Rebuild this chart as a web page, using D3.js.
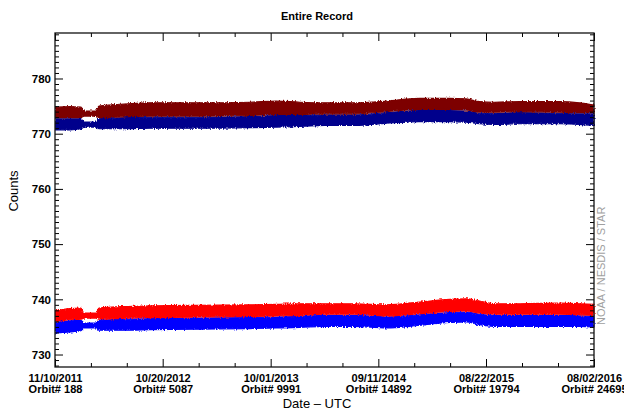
<!DOCTYPE html>
<html><head><meta charset="utf-8">
<script src="https://cdn.jsdelivr.net/npm/d3@7"></script>
<style>
body{margin:0;background:#fff}
svg{display:block}
text{font-family:"Liberation Sans",Arial,Helvetica,sans-serif}
</style>
</head><body>
<svg id="chart" width="624" height="410"></svg>
<script>
// ---- data ----
const sampleDates = ["2011-11-10","2011-12-28","2012-02-01","2012-02-11","2012-03-20","2012-03-30","2012-06-27","2012-09-09","2013-02-16","2013-07-26","2013-10-20","2014-01-02","2014-03-23","2014-06-27","2014-10-07","2015-01-21","2015-04-27","2015-06-20","2015-08-01","2015-09-18","2015-12-07","2016-04-13","2016-06-16","2016-08-02"];
const darkRedHi = [774.8,774.9,774.8,774.1,774.1,775.0,775.4,775.6,775.6,775.7,775.9,775.7,775.6,775.6,775.9,776.4,776.4,776.3,775.8,775.7,775.8,775.8,775.6,775.2];
const darkRedLo = [772.9,772.9,772.9,773.2,773.2,772.9,773.1,773.2,773.2,773.3,773.5,773.5,773.6,773.6,774.0,774.4,774.4,774.3,773.9,773.9,774.0,773.9,773.8,773.8];
const navyHi    = [772.7,772.7,772.7,772.1,772.1,772.7,772.9,773.0,773.0,773.1,773.3,773.3,773.4,773.4,773.8,774.2,774.2,774.1,773.7,773.7,773.8,773.7,773.6,773.6];
const navyLo    = [770.7,770.7,770.9,771.2,771.2,770.9,770.9,771.0,771.0,771.1,771.2,771.3,771.5,771.5,771.9,772.2,772.2,772.1,771.8,771.7,771.8,771.8,771.7,771.5];
const redHi     = [737.9,738.3,738.4,737.5,737.5,738.4,738.7,738.8,738.9,739.0,739.1,739.2,739.2,739.2,739.0,739.5,740.0,740.1,739.7,739.2,739.2,739.3,739.2,739.1];
const redLo     = [736.0,736.3,736.4,736.6,736.6,736.4,736.6,736.7,736.8,736.9,737.0,737.1,737.3,737.3,737.0,737.4,737.8,737.9,737.5,737.3,737.3,737.3,737.2,737.1];
const blueHi    = [735.8,736.1,736.2,735.7,735.7,736.2,736.4,736.5,736.6,736.7,736.8,736.9,737.1,737.1,736.8,737.2,737.6,737.7,737.3,737.1,737.1,737.1,737.0,736.9];
const blueLo    = [733.9,734.1,734.3,734.8,734.8,734.4,734.4,734.5,734.6,734.7,734.8,734.9,735.1,735.1,734.8,735.3,735.8,735.9,735.4,735.1,735.1,735.1,735.1,735.0];

const tickDates  = ["2011-11-10","2012-10-20","2013-10-01","2014-09-11","2015-08-22","2016-08-02"];
const tickLabels = ["11/10/2011","10/20/2012","10/01/2013","09/11/2014","08/22/2015","08/02/2016"];
const tickOrbits = ["Orbit# 188","Orbit# 5087","Orbit# 9991","Orbit# 14892","Orbit# 19794","Orbit# 24695"];
const yTicks = [730,740,750,760,770,780];
const yDomain = [727.74, 788.24];

// ---- layout ----
const L = 55, R = 594, T = 33, B = 367;
const parse = d3.utcParse("%Y-%m-%d");
const svg = d3.select("#chart");

const x = d3.scaleUtc().domain([parse(tickDates[0]), parse(tickDates[tickDates.length-1])]).range([L, R]);
const y = d3.scaleLinear().domain(yDomain).range([B, T]);

const defs = svg.append("defs");
const f = defs.append("filter").attr("id","rough").attr("x","-5%").attr("y","-30%").attr("width","110%").attr("height","160%");
f.append("feTurbulence").attr("type","fractalNoise").attr("baseFrequency","0.9 0.45").attr("numOctaves",2).attr("seed",7).attr("result","n");
f.append("feDisplacementMap").attr("in","SourceGraphic").attr("in2","n").attr("scale",3.5).attr("xChannelSelector","R").attr("yChannelSelector","G");

const clip = defs.append("clipPath").attr("id","plotclip");
clip.append("rect").attr("x",L).attr("y",T).attr("width",R-L+2).attr("height",B-T);

const dates = sampleDates.map(parse);
function band(hi, lo){ return dates.map((d,i)=>({date:d, hi:hi[i], lo:lo[i]})); }
const area = d3.area().x(d=>x(d.date)).y0(d=>y(d.lo)).y1(d=>y(d.hi)).curve(d3.curveMonotoneX);

const series = [
  {data: band(navyHi, navyLo), color:"#00008c"},
  {data: band(darkRedHi, darkRedLo), color:"#7d0000"},
  {data: band(blueHi, blueLo), color:"#0000ff"},
  {data: band(redHi, redLo), color:"#ff0000"}
];
const gBands = svg.append("g").attr("clip-path","url(#plotclip)");
gBands.selectAll("path").data(series).join("path")
  .attr("d", s=>area(s.data))
  .attr("fill", s=>s.color)
  .attr("stroke", s=>s.color)
  .attr("stroke-width", 1.2)
  .attr("filter","url(#rough)");

// ---- axes ----
const majorDates = tickDates.map(parse);
const minorDates = [];
for (let i=0;i<majorDates.length-1;i++){
  const a=+majorDates[i], b=+majorDates[i+1];
  minorDates.push(new Date(a+(b-a)/3), new Date(a+2*(b-a)/3));
}
const yMinor = d3.range(728, 789).filter(v=>v%10!==0);

function styleAxis(g){ g.select(".domain").remove(); g.selectAll("line").attr("stroke","#000").attr("stroke-width",1); }

svg.append("g").attr("transform",`translate(0,${B})`).call(d3.axisBottom(x).tickValues(minorDates).tickSize(-4).tickFormat("")).call(styleAxis);
svg.append("g").attr("transform",`translate(0,${T})`).call(d3.axisTop(x).tickValues(minorDates).tickSize(-4).tickFormat("")).call(styleAxis);
svg.append("g").attr("transform",`translate(0,${T})`).call(d3.axisTop(x).tickValues(majorDates).tickSize(-8).tickFormat("")).call(styleAxis);
const xb = svg.append("g").attr("transform",`translate(0,${B})`).call(d3.axisBottom(x).tickValues(majorDates).tickSize(-8).tickFormat("")).call(styleAxis);
xb.selectAll(".tick").each(function(d,i){
  const t = d3.select(this);
  t.append("text").attr("y",14.5).attr("text-anchor","middle").attr("fill","#000")
    .style("font-size","11px").style("font-weight","bold").text(tickLabels[i]);
  t.append("text").attr("y",25.5).attr("text-anchor","middle").attr("fill","#000")
    .style("font-size","11px").style("font-weight","bold").text(tickOrbits[i]);
});

svg.append("g").attr("transform",`translate(${L},0)`).call(d3.axisLeft(y).tickValues(yMinor).tickSize(-4).tickFormat("")).call(styleAxis);
svg.append("g").attr("transform",`translate(${R},0)`).call(d3.axisRight(y).tickValues(yMinor).tickSize(-4).tickFormat("")).call(styleAxis);
svg.append("g").attr("transform",`translate(${R},0)`).call(d3.axisRight(y).tickValues(yTicks).tickSize(-8).tickFormat("")).call(styleAxis);
const yl = svg.append("g").attr("transform",`translate(${L},0)`).call(d3.axisLeft(y).tickValues(yTicks).tickSize(-8).tickPadding(4)).call(styleAxis);
yl.selectAll("text").attr("fill","#000").style("font-size","11.5px").style("font-weight","bold").style("font-family","'Liberation Sans',Arial,sans-serif");

svg.append("rect").attr("x",L).attr("y",T).attr("width",R-L).attr("height",B-T)
  .attr("fill","none").attr("stroke","#111").attr("stroke-width",1.3);

// ---- titles ----
svg.append("text").attr("x",317).attr("y",20).attr("text-anchor","middle")
  .style("font-size","11px").style("font-weight","bold").text("Entire Record");
svg.append("text").attr("x",317).attr("y",408).attr("text-anchor","middle")
  .style("font-size","13px").text("Date \u2013 UTC");
svg.append("text").attr("transform","translate(18,191) rotate(-90)").attr("text-anchor","middle")
  .style("font-size","13px").text("Counts");
svg.append("text").attr("transform","translate(605,325) rotate(-90)").attr("text-anchor","start")
  .attr("fill","#a0a0a0").style("font-size","11px").text("NOAA / NESDIS / STAR");
</script>
</body></html>
